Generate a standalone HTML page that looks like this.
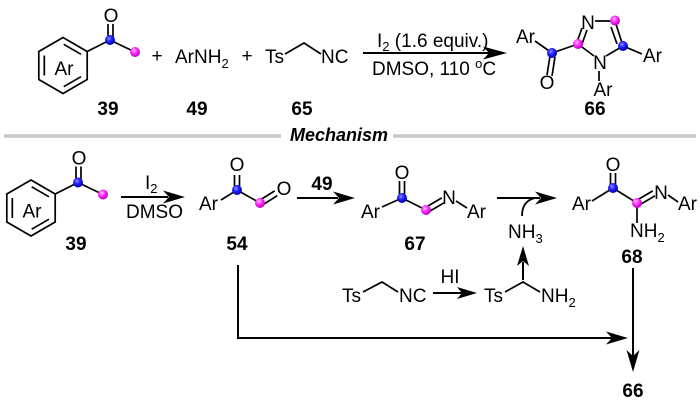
<!DOCTYPE html>
<html><head><meta charset="utf-8"><style>
html,body{margin:0;padding:0;background:#fff;}
svg{display:block;}
text{font-family:"Liberation Sans",Arial,sans-serif;font-size:19px;fill:#000;}
.b{font-weight:bold;}
</style></head><body>
<svg width="700" height="407" viewBox="0 0 700 407" xmlns="http://www.w3.org/2000/svg">
<defs>
<radialGradient id="gb" cx="40%" cy="35%" r="65%"><stop offset="0" stop-color="#8f8fff"/><stop offset="0.45" stop-color="#2222ff"/><stop offset="1" stop-color="#0000a8"/></radialGradient>
<radialGradient id="gm" cx="40%" cy="35%" r="65%"><stop offset="0" stop-color="#ffc8ff"/><stop offset="0.45" stop-color="#ff30ff"/><stop offset="1" stop-color="#b800b8"/></radialGradient>
<g id="s39">
<polygon points="63,37.5 87.2,51.5 87.2,79.5 63,93.5 38.8,79.5 38.8,51.5" fill="none" stroke="#000" stroke-width="1.7" stroke-linejoin="miter"/>
<line x1="44.3" y1="55.5" x2="44.3" y2="75.5" stroke="#000" stroke-width="1.7"/>
<line x1="63.7" y1="44.3" x2="81" y2="54.3" stroke="#000" stroke-width="1.7"/>
<line x1="81" y1="76.7" x2="63.7" y2="86.7" stroke="#000" stroke-width="1.7"/>
<text x="64" y="75" text-anchor="middle">Ar</text>
<line x1="87.2" y1="51.5" x2="110" y2="40" stroke="#000" stroke-width="1.7"/>
<line x1="108" y1="39" x2="108" y2="24" stroke="#000" stroke-width="1.7"/>
<line x1="113" y1="38" x2="113" y2="24" stroke="#000" stroke-width="1.7"/>
<text x="111" y="22" text-anchor="middle">O</text>
<line x1="110" y1="40" x2="135" y2="52" stroke="#000" stroke-width="1.7"/>
<circle cx="110" cy="40" r="5" fill="url(#gb)"/>
<circle cx="135" cy="52" r="5" fill="url(#gm)"/>
</g>
</defs>

<!-- TOP ROW -->
<use href="#s39"/>
<text x="157" y="62" text-anchor="middle">+</text>
<text x="175" y="63">ArNH<tspan font-size="13" dy="5">2</tspan></text>
<text x="247" y="62" text-anchor="middle">+</text>
<text x="265" y="63">Ts</text>
<polyline points="285,54 304,43 321,54" fill="none" stroke="#000" stroke-width="1.7"/>
<text x="321" y="63">NC</text>
<text class="b" x="108" y="115" text-anchor="middle">39</text>
<text class="b" x="197" y="115" text-anchor="middle">49</text>
<text class="b" x="302" y="115" text-anchor="middle">65</text>

<!-- top arrow -->
<line x1="363" y1="53" x2="490" y2="53" stroke="#000" stroke-width="2"/>
<polygon points="507,53 483,46.5 489,53 483,59.5" fill="#000"/>
<text x="377" y="47">I<tspan font-size="13" dy="4">2</tspan><tspan dy="-4"> (1.6 equiv.)</tspan></text>
<text x="372" y="75">DMSO, 110 <tspan font-size="13" dy="-7">o</tspan><tspan dy="7">C</tspan></text>

<!-- product 66 top -->
<text x="516" y="43">Ar</text>
<line x1="535" y1="41" x2="552" y2="53" stroke="#000" stroke-width="1.7"/>
<line x1="550" y1="56" x2="547" y2="75" stroke="#000" stroke-width="1.7"/>
<line x1="555" y1="57" x2="552" y2="76" stroke="#000" stroke-width="1.7"/>
<text x="547" y="89" text-anchor="middle">O</text>
<line x1="552" y1="53" x2="578" y2="44" stroke="#000" stroke-width="1.7"/>
<line x1="577" y1="42" x2="582" y2="28" stroke="#000" stroke-width="1.7"/>
<line x1="582" y1="44" x2="587" y2="30" stroke="#000" stroke-width="1.7"/>
<text x="588" y="29" text-anchor="middle">N</text>
<line x1="595" y1="21" x2="615" y2="21" stroke="#000" stroke-width="1.7"/>
<line x1="615" y1="21" x2="623" y2="46" stroke="#000" stroke-width="1.7"/>
<line x1="611" y1="27" x2="617" y2="44" stroke="#000" stroke-width="1.7"/>
<line x1="623" y1="46" x2="642" y2="54" stroke="#000" stroke-width="1.7"/>
<text x="643" y="62">Ar</text>
<line x1="578" y1="44" x2="594" y2="56" stroke="#000" stroke-width="1.7"/>
<line x1="623" y1="46" x2="606" y2="56" stroke="#000" stroke-width="1.7"/>
<text x="600" y="69" text-anchor="middle">N</text>
<line x1="599" y1="71" x2="599" y2="81" stroke="#000" stroke-width="1.7"/>
<text x="603" y="96" text-anchor="middle">Ar</text>
<circle cx="552" cy="53" r="5" fill="url(#gb)"/>
<circle cx="578" cy="44" r="5" fill="url(#gm)"/>
<circle cx="615" cy="20.5" r="5" fill="url(#gm)"/>
<circle cx="623" cy="46" r="5" fill="url(#gb)"/>
<text class="b" x="595" y="115" text-anchor="middle">66</text>

<!-- separator -->
<line x1="4" y1="136" x2="281" y2="136" stroke="#c8c8c8" stroke-width="3.5"/>
<line x1="393" y1="136" x2="696" y2="136" stroke="#c8c8c8" stroke-width="3.5"/>
<text x="290" y="141" font-weight="bold" font-style="italic" style="font-size:18px">Mechanism</text>

<!-- MECHANISM -->
<use href="#s39" transform="translate(-32,142.5)"/>
<text class="b" x="76" y="250" text-anchor="middle">39</text>

<line x1="121" y1="197" x2="168" y2="197" stroke="#000" stroke-width="2"/>
<polygon points="185,197 163,190.5 169,197 163,203.5" fill="#000"/>
<text x="145" y="189">I<tspan font-size="13" dy="4">2</tspan></text>
<text x="126" y="218">DMSO</text>

<!-- 54 -->
<text x="199" y="210">Ar</text>
<line x1="221" y1="200" x2="237" y2="190" stroke="#000" stroke-width="1.7"/>
<line x1="234.5" y1="189" x2="234.5" y2="175" stroke="#000" stroke-width="1.7"/>
<line x1="239.5" y1="188" x2="239.5" y2="175" stroke="#000" stroke-width="1.7"/>
<text x="237" y="171" text-anchor="middle">O</text>
<line x1="237" y1="190" x2="260" y2="203" stroke="#000" stroke-width="1.7"/>
<line x1="258.7" y1="200.9" x2="274.7" y2="190.9" stroke="#000" stroke-width="1.7"/>
<line x1="262.3" y1="205.1" x2="277.3" y2="195.6" stroke="#000" stroke-width="1.7"/>
<text x="284" y="195" text-anchor="middle">O</text>
<circle cx="237" cy="190" r="5" fill="url(#gb)"/>
<circle cx="260" cy="203" r="5" fill="url(#gm)"/>
<text class="b" x="237" y="250" text-anchor="middle">54</text>

<line x1="297" y1="198" x2="338" y2="198" stroke="#000" stroke-width="2"/>
<polygon points="355,198 333,191.5 339,198 333,204.5" fill="#000"/>
<text class="b" x="322" y="190" text-anchor="middle">49</text>

<!-- 67 -->
<text x="361" y="218">Ar</text>
<line x1="382" y1="207" x2="402" y2="198" stroke="#000" stroke-width="1.7"/>
<line x1="399.5" y1="197" x2="399.5" y2="181" stroke="#000" stroke-width="1.7"/>
<line x1="404.5" y1="196" x2="404.5" y2="181" stroke="#000" stroke-width="1.7"/>
<text x="402" y="179" text-anchor="middle">O</text>
<line x1="402" y1="198" x2="426" y2="210" stroke="#000" stroke-width="1.7"/>
<line x1="424.8" y1="207.9" x2="441.8" y2="197.9" stroke="#000" stroke-width="1.7"/>
<line x1="428.2" y1="212.1" x2="444" y2="202.8" stroke="#000" stroke-width="1.7"/>
<text x="449" y="204" text-anchor="middle">N</text>
<line x1="456" y1="201" x2="467" y2="208" stroke="#000" stroke-width="1.7"/>
<text x="467" y="218">Ar</text>
<circle cx="402" cy="198" r="5" fill="url(#gb)"/>
<circle cx="426" cy="210" r="5" fill="url(#gm)"/>
<text class="b" x="415" y="250" text-anchor="middle">67</text>

<!-- arrow 67->68 -->
<line x1="497" y1="198" x2="540" y2="198" stroke="#000" stroke-width="2"/>
<polygon points="557,198 535,191.5 541,198 535,204.5" fill="#000"/>
<path d="M522 216 C522 206 526 200 535 198" fill="none" stroke="#000" stroke-width="1.8"/>
<text x="508" y="238">NH<tspan font-size="13" dy="5">3</tspan></text>
<line x1="523" y1="280" x2="523" y2="262" stroke="#000" stroke-width="2"/>
<polygon points="523,246 517,266 523,261 529,266" fill="#000"/>

<!-- 68 -->
<text x="572" y="210">Ar</text>
<line x1="592" y1="201" x2="613" y2="188" stroke="#000" stroke-width="1.7"/>
<line x1="610.5" y1="187" x2="610.5" y2="173" stroke="#000" stroke-width="1.7"/>
<line x1="615.5" y1="186" x2="615.5" y2="173" stroke="#000" stroke-width="1.7"/>
<text x="613" y="171" text-anchor="middle">O</text>
<line x1="613" y1="188" x2="637" y2="203" stroke="#000" stroke-width="1.7"/>
<line x1="635.8" y1="200.9" x2="652.8" y2="190.9" stroke="#000" stroke-width="1.7"/>
<line x1="639.2" y1="205.1" x2="655" y2="195.8" stroke="#000" stroke-width="1.7"/>
<text x="661" y="199" text-anchor="middle">N</text>
<line x1="668" y1="195" x2="678" y2="202" stroke="#000" stroke-width="1.7"/>
<text x="678" y="210">Ar</text>
<line x1="637" y1="203" x2="637" y2="223" stroke="#000" stroke-width="1.7"/>
<text x="630" y="237">NH<tspan font-size="13" dy="5">2</tspan></text>
<circle cx="613" cy="188" r="5" fill="url(#gb)"/>
<circle cx="637" cy="203" r="5" fill="url(#gm)"/>
<text class="b" x="632" y="263" text-anchor="middle">68</text>

<!-- TsCH2NC -> TsCH(NH2) -->
<text x="342" y="302">Ts</text>
<polyline points="363,292 382,282 398,292" fill="none" stroke="#000" stroke-width="1.7"/>
<text x="399" y="302">NC</text>
<line x1="433" y1="293" x2="462" y2="293" stroke="#000" stroke-width="2"/>
<polygon points="477,293 457,287 462,293 457,299" fill="#000"/>
<text x="450" y="283" text-anchor="middle">HI</text>
<text x="484" y="302">Ts</text>
<polyline points="505,292 523,282 540,292" fill="none" stroke="#000" stroke-width="1.7"/>
<text x="541" y="302">NH<tspan font-size="13" dy="5">2</tspan></text>

<!-- long arrows -->
<path d="M238 265 V338 H612" fill="none" stroke="#000" stroke-width="2"/>
<polygon points="628,338 606,331.5 612,338 606,344.5" fill="#000"/>
<line x1="633" y1="268" x2="633" y2="356" stroke="#000" stroke-width="2"/>
<polygon points="633,372 626.5,350 633,356 639.5,350" fill="#000"/>
<text class="b" x="633" y="397" text-anchor="middle">66</text>
</svg>
</body></html>
